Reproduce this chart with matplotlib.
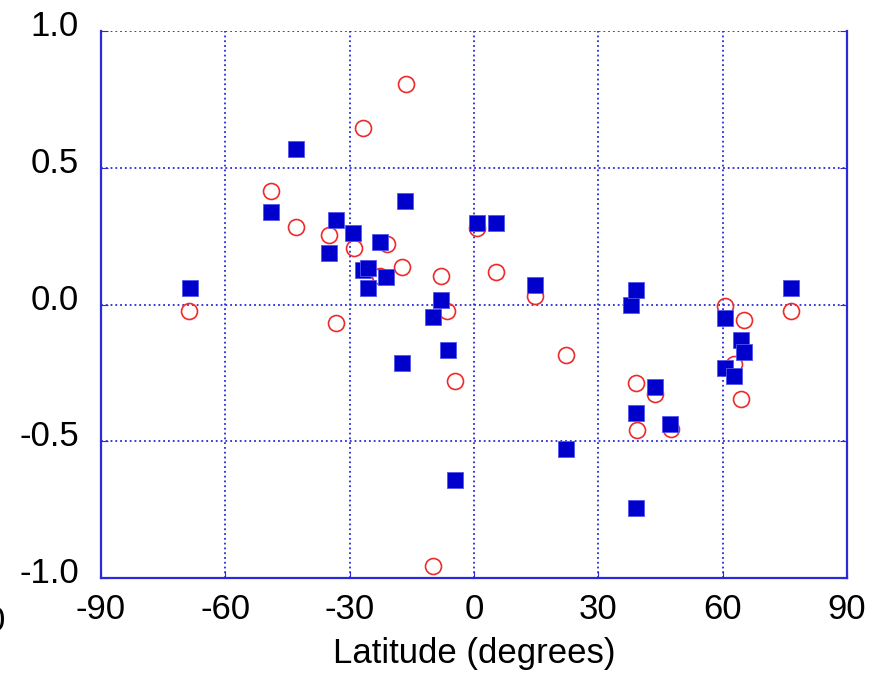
import matplotlib
matplotlib.use('Agg')
import matplotlib.pyplot as plt
import matplotlib.transforms as mtransforms

plt.rcParams['font.family'] = ['Liberation Sans', 'DejaVu Sans']
plt.rcParams['axes.unicode_minus'] = False

# filled squares (blue)
sq_lat = [-68.5, -48.9, -42.9, -33.2, -34.9, -29.1, -22.6, -16.6, -26.7, -25.7,
          -25.5, -21.2, -17.5, -7.9, -9.8, -6.4, -4.7, 0.8, 5.4, 14.6,
          22.1, 37.8, 39.0, 39.0, 43.6, 47.4, 39.0, 60.5, 60.5, 62.7,
          64.3, 65.1, 76.4]
sq_val = [0.06, 0.34, 0.57, 0.31, 0.19, 0.26, 0.23, 0.38, 0.125, 0.135,
          0.06, 0.10, -0.215, 0.018, -0.047, -0.167, -0.64, 0.30, 0.30, 0.07,
          -0.53, 0.0, 0.053, -0.395, -0.30, -0.437, -0.745, -0.048, -0.233, -0.261,
          -0.13, -0.174, 0.061]

# open circles (red)
ci_lat = [-68.7, -48.9, -42.9, -35.0, -29.0, -26.8, -16.5, -20.9, -22.8, -17.5,
          -7.9, -33.3, -6.5, -4.7, -9.8, 0.75, 5.2, 14.7, 22.2, 39.0,
          43.6, 39.4, 47.6, 60.6, 65.1, 62.8, 64.4, 76.5]
ci_val = [-0.022, 0.417, 0.282, 0.255, 0.205, 0.645, 0.807, 0.222, 0.103, 0.136,
          0.103, -0.069, -0.022, -0.281, -0.956, 0.28, 0.12, 0.03, -0.184, -0.286,
          -0.328, -0.46, -0.456, -0.006, -0.055, -0.219, -0.347, -0.022]

fig = plt.figure(figsize=(8.71, 6.76), dpi=100)
ax = fig.add_axes([0.116, 0.145, 0.8565, 0.809])

blue = '#2a2ad8'
ax.plot(ci_lat, ci_val, 'o', ms=11.5, mfc='none', mec='#ee2a2a', mew=1.2, zorder=3)
ax.plot(sq_lat, sq_val, 's', ms=11.5, mfc='#0000cc', mec='#5555ee', mew=0.6, zorder=4)

ax.set_xlim(-90, 90)
ax.set_ylim(-1.0, 1.0)
ax.set_xticks([-90, -60, -30, 0, 30, 60, 90])
ax.set_yticks([-1.0, -0.5, 0.0, 0.5, 1.0])
ax.set_yticklabels(['-1.0', '-0.5', '0.0', '0.5', '1.0'])
ax.grid(True, color=blue, linestyle=':', lw=1.3, zorder=1)
ax.set_axisbelow(True)

for side in ['left', 'right', 'bottom']:
    ax.spines[side].set_color(blue)
    ax.spines[side].set_linewidth(1.6)
ax.spines['top'].set_visible(False)

ax.tick_params(axis='both', direction='in', length=5, color=blue,
               labelsize=25, right=True)
ax.tick_params(axis='y', pad=16)
ax.tick_params(axis='x', pad=11)

offset = mtransforms.ScaledTranslation(0, 0.08, fig.dpi_scale_trans)
for lab in ax.get_yticklabels():
    lab.set_transform(lab.get_transform() + offset)

ax.set_xlabel('Latitude (degrees)', fontsize=25, labelpad=8)
fig.text(-0.016, 0.08, '0', fontsize=25, ha='left', va='center')

fig.savefig('out.png', dpi=100, facecolor='white')
plt.close(fig)
